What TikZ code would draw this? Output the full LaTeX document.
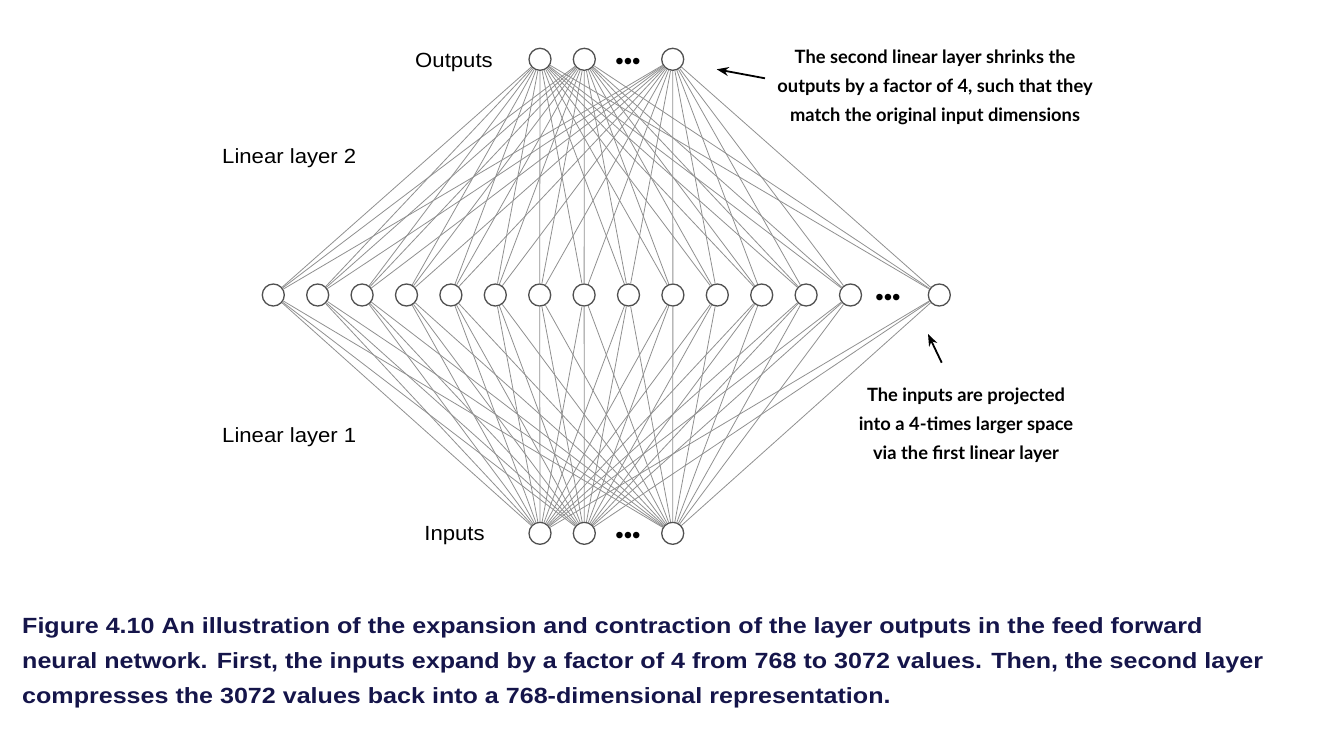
\documentclass[tikz,border=0pt]{standalone}
\usepackage{fontspec}
\setmainfont{Liberation Sans}
\newfontfamily\lblfont[FakeStretch=1.08]{Liberation Sans}
\newfontfamily\annfont{Lato}
\newfontfamily\capfont[FakeStretch=1.14]{Liberation Sans}
\usetikzlibrary{arrows.meta}
\definecolor{capnavy}{HTML}{15154A}
\definecolor{edgegray}{HTML}{909090}
\definecolor{circgray}{HTML}{505050}
\begin{document}
\begin{tikzpicture}[x=1pt,y=-1pt,
  neuron/.style={circle,draw=circgray,line width=1.3pt,fill=white,minimum size=22pt,inner sep=0pt},
  conn/.style={draw=edgegray,line width=0.8pt},
  lbl/.style={font=\lblfont\fontsize{20.5}{24}\selectfont,inner sep=0pt},
  dotsnode/.style={font=\fontsize{24}{24}\selectfont,inner sep=0pt,yshift=-5pt},
  ann/.style={font=\annfont\bfseries\fontsize{18.3}{24}\selectfont,inner sep=0pt,anchor=base},
  captext/.style={font=\capfont\bfseries\fontsize{22}{26}\selectfont,text=capnavy,anchor=base west,inner sep=0pt},
  note arrow/.style={-{Stealth[length=12pt,width=9pt]},line width=1.8pt,black}]
\path[use as bounding box] (0,0) rectangle (1324,750);

% hidden layer
\foreach \i in {0,...,13} \node[neuron] (m\i) at ({273.3+44.4*\i},295) {};
\node[neuron] (m14) at (939.3,295) {};
\node[dotsnode] (mdots) at (888,295) {•••};

% outputs
\node[neuron] (o1) at (540,59.3) {};
\node[neuron] (o2) at (584.3,59.3) {};
\node[neuron] (o3) at (672.7,59.3) {};
\node[dotsnode] (odots) at (628,59.3) {•••};

% inputs
\node[neuron] (i1) at (540,533.3) {};
\node[neuron] (i2) at (584.3,533.3) {};
\node[neuron] (i3) at (672.7,533.3) {};
\node[dotsnode] (idots) at (628,533.3) {•••};

% connections
\foreach \m in {0,...,14}
  \foreach \o in {o1,o2,o3,i1,i2,i3}
    \draw[conn] (m\m) -- (\o);

% labels
\node[lbl,anchor=base] (loutputs) at (454,67.5) {Outputs};
\node[lbl,anchor=base west] (ll2) at (222,163) {Linear layer 2};
\node[lbl,anchor=base west] (ll1) at (222,442) {Linear layer 1};
\node[lbl,anchor=base] (linputs) at (454.5,540.5) {Inputs};

% annotations
\node[ann] (a1) at (935,63) {The second linear layer shrinks the};
\node[ann] (a2) at (935,92) {outputs by a factor of 4, such that they};
\node[ann] (a3) at (935,121) {match the original input dimensions};
\node[ann] (b1) at (966,401) {The inputs are projected};
\node[ann] (b2) at (966,430) {into a 4-times larger space};
\node[ann] (b3) at (966,459) {via the first linear layer};

\coordinate (ta) at (765,78.3);
\coordinate (ha) at (716.7,69.3);
\coordinate (tb) at (941.7,362.7);
\coordinate (hb) at (928,334);
\draw[note arrow] (ta) -- (ha);
\draw[note arrow] (tb) -- (hb);

% caption
\node[captext] (c1) at (22,633) {Figure 4.10 An illustration of the expansion and contraction of the layer outputs in the feed forward};
\node[captext] (c2) at (22,668) {neural network. First, the inputs expand by a factor of 4 from 768 to 3072 values. Then, the second layer};
\node[captext] (c3) at (22,703) {compresses the 3072 values back into a 768-dimensional representation.};
\end{tikzpicture}
\end{document}
